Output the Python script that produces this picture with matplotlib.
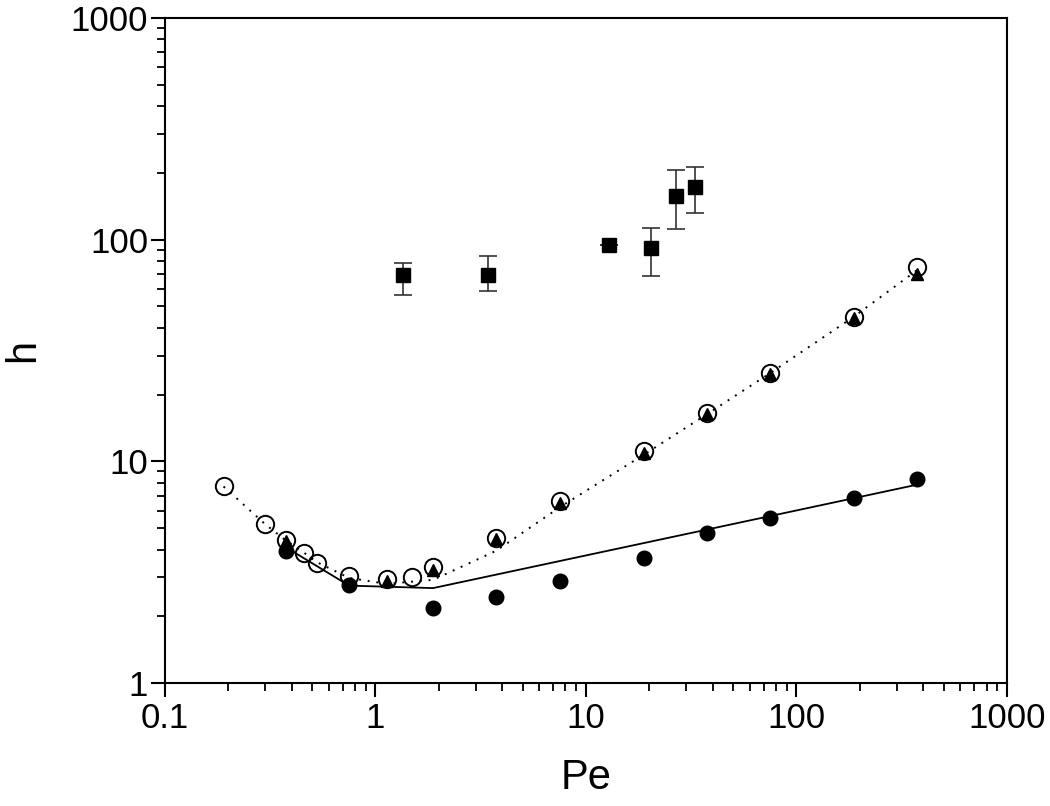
import matplotlib.pyplot as plt

plt.rcParams['font.family'] = ['Liberation Sans', 'DejaVu Sans']

# Open circles (with dotted model curve)
pe_open = [0.19, 0.30, 0.375, 0.46, 0.53, 0.75, 1.13, 1.5, 1.88, 3.75, 7.5, 18.8, 37.5, 75, 188, 375]
h_open = [7.7, 5.2, 4.4, 3.86, 3.48, 3.04, 2.95, 3.01, 3.34, 4.5, 6.6, 11.1, 16.5, 25, 45, 75]

# Filled triangles
pe_tri = [0.375, 1.13, 1.88, 3.75, 7.5, 18.8, 37.5, 75, 188, 375]
h_tri = [4.35, 2.9, 3.24, 4.45, 6.5, 10.9, 16.4, 24.8, 44.5, 70]

# Filled circles (with solid model curve)
pe_fill = [0.375, 0.75, 1.88, 3.75, 7.5, 18.8, 37.5, 75, 188, 375]
h_fill = [3.94, 2.77, 2.18, 2.44, 2.89, 3.67, 4.75, 5.56, 6.84, 8.33]

# Model curves
pe_solid = [0.375, 0.75, 1.88, 375]
h_solid = [4.1, 2.75, 2.68, 7.85]
pe_dot = [0.19, 0.30, 0.375, 0.46, 0.53, 0.75, 1.13, 1.88, 3.75, 7.5, 18.8, 37.5, 75, 188, 375]
h_dot = [7.7, 5.2, 4.4, 3.86, 3.5, 2.98, 2.8, 2.92, 3.95, 6.2, 10.7, 16.3, 25, 45, 73]

# Filled squares with error bars
pe_sq = [1.36, 3.42, 12.9, 20.4, 26.8, 33.0]
h_sq = [69.3, 69.3, 94.6, 91.8, 157, 173]
h_sq_hi = [78.5, 84.4, 94.6, 113, 206, 213]
h_sq_lo = [56.3, 58.7, 94.6, 68.6, 112, 132]

fig = plt.figure(figsize=(10.5, 8.06), dpi=100)
ax = fig.add_axes([0.157, 0.1526, 0.802, 0.8251])

ax.plot(pe_solid, h_solid, '-', color='black', lw=1.3, zorder=2)
ax.plot(pe_dot, h_dot, linestyle=(0, (1, 3.5)), color='black', lw=1.4, zorder=2)

ax.plot(pe_fill, h_fill, 'o', color='black', ms=10.5, zorder=4)
ax.plot(pe_open, h_open, 'o', mfc='none', mec='black', mew=1.4, ms=12.5, zorder=3)
ax.plot(pe_tri, h_tri, '^', color='black', ms=8, zorder=5)

yerr = [[h - lo for h, lo in zip(h_sq, h_sq_lo)], [hi - h for h, hi in zip(h_sq, h_sq_hi)]]
ax.errorbar(pe_sq, h_sq, yerr=yerr, fmt='s', color='black', ms=9.5,
            ecolor='#333333', elinewidth=1.2, capsize=6.5, capthick=1.2, zorder=4)

ax.set_xscale('log')
ax.set_yscale('log')
ax.set_xlim(0.1, 1000)
ax.set_ylim(1, 1000)

ax.set_xticks([0.1, 1, 10, 100, 1000])
ax.set_xticklabels(['0.1', '1', '10', '100', '1000'])
ax.set_yticks([1, 10, 100, 1000])
ax.set_yticklabels(['1', '10', '100', '1000'])

ax.tick_params(which='major', direction='out', length=10, width=1.5, labelsize=25, pad=4)
ax.tick_params(which='minor', direction='out', length=5.5, width=1.3)
ax.tick_params(axis='y', which='major', pad=2)

for s in ax.spines.values():
    s.set_linewidth(1.5)

ax.set_xlabel('Pe', fontsize=30, labelpad=16)
ax.set_ylabel('h', fontsize=30, labelpad=20)

fig.savefig('out.png', dpi=100)
